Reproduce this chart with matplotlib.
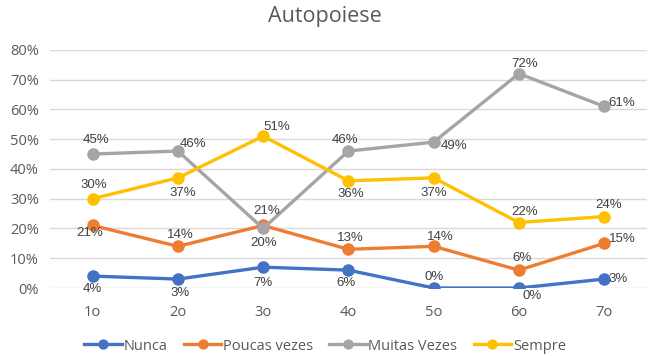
import matplotlib
matplotlib.use("Agg")
import matplotlib.pyplot as plt
from matplotlib.ticker import PercentFormatter

# data
categories = ["1o", "2o", "3o", "4o", "5o", "6o", "7o"]
nunca = [4, 3, 7, 6, 0, 0, 3]
poucas = [21, 14, 21, 13, 14, 6, 15]
muitas = [45, 46, 20, 46, 49, 72, 61]
sempre = [30, 37, 51, 36, 37, 22, 24]

series = [
    ("Nunca", nunca, "#4472C4"),
    ("Poucas vezes", poucas, "#ED7D31"),
    ("Muitas Vezes", muitas, "#A5A5A5"),
    ("Sempre", sempre, "#FFC000"),
]

# label offsets in pixels (dx, dy) for each point, per series
label_offsets = {
    "Nunca": [(0, -13), (2, -14), (0, -16), (-2, -13), (0, 11), (13, -8), (14, 0)],
    "Poucas vezes": [(-3, -8), (2, 11), (4, 14), (2, 11), (7, 9), (3, 12), (18, 4)],
    "Muitas Vezes": [(3, 14), (15, 7), (0, -15), (-3, 11), (20, -4), (6, 10), (18, 3)],
    "Sempre": [(1, 14), (5, -15), (14, 9), (2, -13), (0, -15), (6, 11), (4, 12)],
}

fig = plt.figure(figsize=(6.5, 3.56), dpi=100)
ax = fig.add_axes([0.077, 0.191, 0.918, 0.669])

x = list(range(len(categories)))
for name, vals, color in series:
    ax.plot(x, vals, color=color, linewidth=2.4, marker="o", markersize=8,
            label=name, zorder=3)
    for xi, v, (dx, dy) in zip(x, vals, label_offsets[name]):
        ax.annotate(f"{v}%", (xi, v), xytext=(dx, dy), textcoords="offset pixels",
                    ha="center", va="center", fontsize=9.5, color="#404040",
                    family="Liberation Sans", zorder=4)

ax.set_xlim(-0.5, len(categories) - 0.5)
ax.set_ylim(0, 80)
ax.set_yticks(range(0, 81, 10))
ax.yaxis.set_major_formatter(PercentFormatter(decimals=0))
ax.set_xticks(x)
ax.set_xticklabels(categories)
ax.grid(axis="y", color="#D9D9D9", linewidth=1)
ax.set_axisbelow(True)
for s in ax.spines.values():
    s.set_visible(False)
ax.tick_params(length=0, labelsize=10.5, colors="#595959", pad=12)
ax.tick_params(axis="y", pad=8)
for lbl in ax.get_xticklabels() + ax.get_yticklabels():
    lbl.set_family("Open Sans")

fig.text(0.5, 0.955, "Autopoiese", ha="center", va="center", fontsize=15.5,
         color="#595959", family="Open Sans")

fig.legend(loc="center", bbox_to_anchor=(0.5, 0.028), ncol=4, frameon=False,
           prop={"family": "Open Sans", "size": 10.5}, labelcolor="#595959",
           handlelength=2.6, handletextpad=0.1, columnspacing=1.1,
           markerscale=0.8)

fig.savefig("out.png", dpi=100)
